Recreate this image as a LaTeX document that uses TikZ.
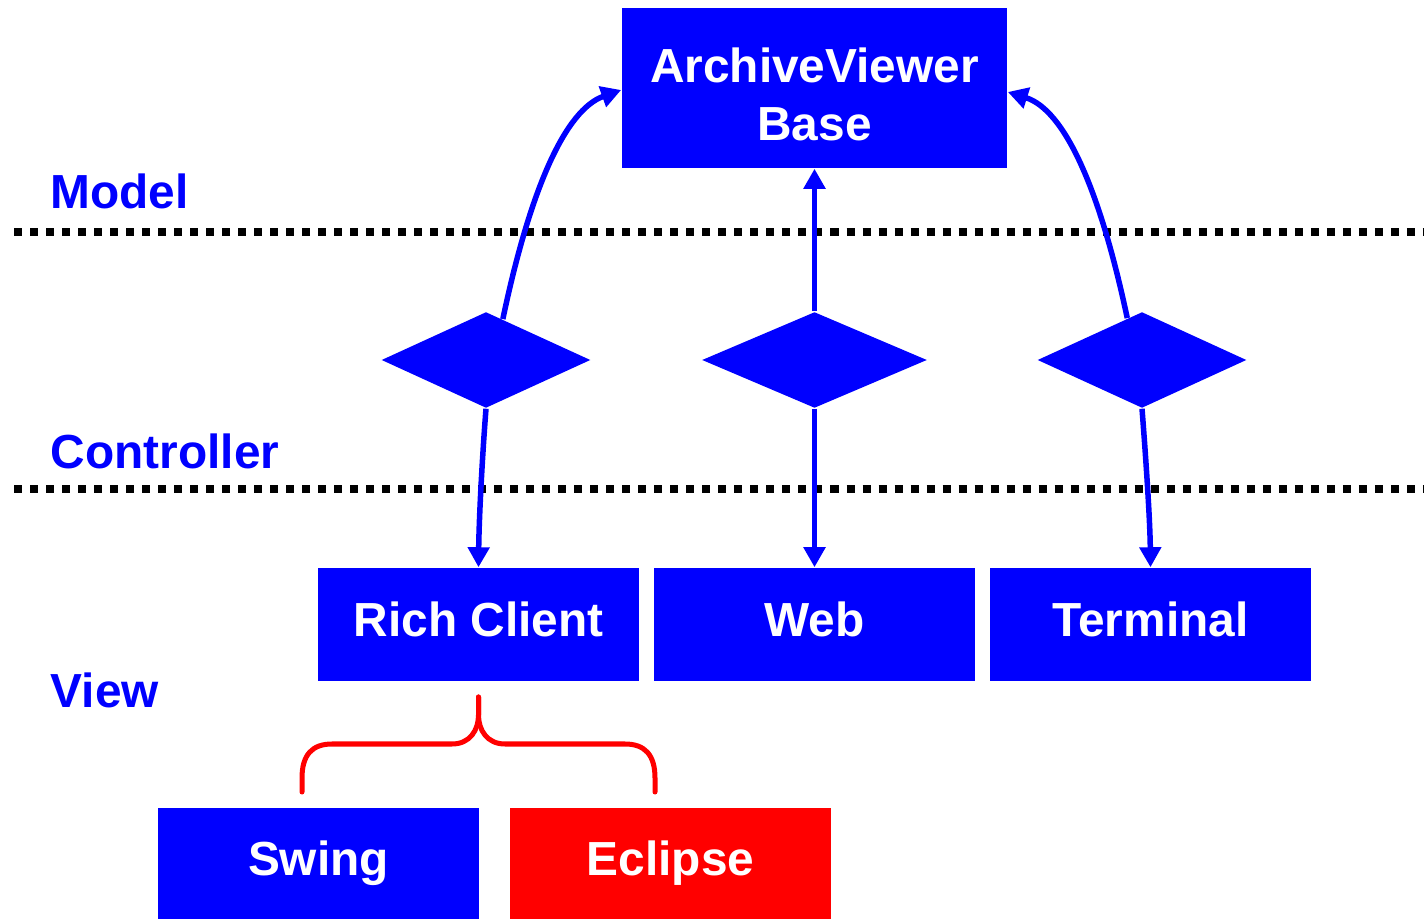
\documentclass[tikz,border=0pt]{standalone}
\usepackage{fontspec}
\setmainfont{Liberation Sans}
\usetikzlibrary{shapes.geometric,arrows.meta,calc}
\definecolor{myblue}{RGB}{0,0,255}
\definecolor{myred}{RGB}{255,0,0}
\tikzset{
  boxnode/.style={fill=myblue,draw=none,text=white,font=\fontsize{13.6pt}{16.6pt}\selectfont\bfseries,minimum width=3.21cm,minimum height=1.13cm,inner sep=0pt,align=center},
  onebox/.style={boxnode,text height=0.34cm,text depth=0.10cm},
  lowbox/.style={boxnode,minimum height=1.2cm,text height=0.34cm,text depth=0.20cm},
  layerlabel/.style={text=myblue,font=\fontsize{13.6pt}{15pt}\selectfont\bfseries,anchor=base west,inner sep=0pt},
  ctrl/.style={diamond,fill=myblue,draw=none,minimum width=2.09cm,minimum height=0.96cm,inner sep=0pt},
  sep/.style={black,line width=0.08cm,dash pattern=on 0.08cm off 0.08cm},
  arr/.style={myblue,line width=0.055cm,-{Triangle[length=0.2cm,width=0.21cm]}},
  brace/.style={myred,line width=0.05cm,line cap=round}
}
\begin{document}
\begin{tikzpicture}[x=0.01cm,y=-0.01cm]
\useasboundingbox (0,0) rectangle (1424,919);
% layer separators
\coordinate (s1a) at (14,232); \coordinate (s1b) at (1430,232);
\coordinate (s2a) at (14,489); \coordinate (s2b) at (1430,489);
\draw[sep] (s1a) -- (s1b);
\draw[sep] (s2a) -- (s2b);
% labels
\node[layerlabel] (model) at (50,209) {Model};
\node[layerlabel] (controller) at (50,469) {Controller};
\node[layerlabel] (view) at (50,708) {View};
% base
\node[boxnode,minimum width=3.85cm,minimum height=1.6cm] (base) at (814.5,88) {\rule{0pt}{0.47cm}ArchiveViewer\\Base};
% diamonds
\node[ctrl] (d1) at (486,360) {};
\node[ctrl,minimum width=2.25cm] (d2) at (814.5,360) {};
\node[ctrl] (d3) at (1142,360) {};
% views
\node[onebox] (rc) at (478.5,624.5) {Rich Client};
\node[onebox] (web) at (814.5,624.5) {Web};
\node[onebox] (term) at (1150.5,624.5) {Terminal};
\node[lowbox] (swing) at (318.5,868) {Swing};
\node[lowbox,fill=myred] (eclipse) at (670.5,868) {Eclipse};
% arrows up
\coordinate (d1s) at ($(d1.north)!0.16!(d1.east)$);
\coordinate (d3s) at ($(d3.north)!0.14!(d3.west)$);
\draw[arr] (d1s) .. controls (530,190) and (565,110) .. ($(base.west)+(0,2)$);
\draw[arr] (d2.north) -- (base.south);
\draw[arr] (d3s) .. controls (1100,190) and (1065,110) .. ($(base.east)+(0,4)$);
% arrows down
\draw[arr] (d1.south) .. controls (482,460) and (479,520) .. (rc.north);
\draw[arr] (d2.south) -- (web.north);
\draw[arr] (d3.south) .. controls (1146,460) and (1150,520) .. (term.north);
% brace
\coordinate (bl) at (302,792);
\coordinate (br) at (655,792);
\coordinate (bt) at (478.5,697);
\draw[brace] (bl) -- (302,778) .. controls (302,755) and (312,744) .. (332,744)
  -- (452,744) .. controls (470,744) and (478.5,730) .. (478.5,715) -- (bt);
\draw[brace] (bt) -- (478.5,715) .. controls (478.5,730) and (487,744) .. (505,744)
  -- (625,744) .. controls (645,744) and (655,755) .. (655,778) -- (br);
\end{tikzpicture}
\end{document}
